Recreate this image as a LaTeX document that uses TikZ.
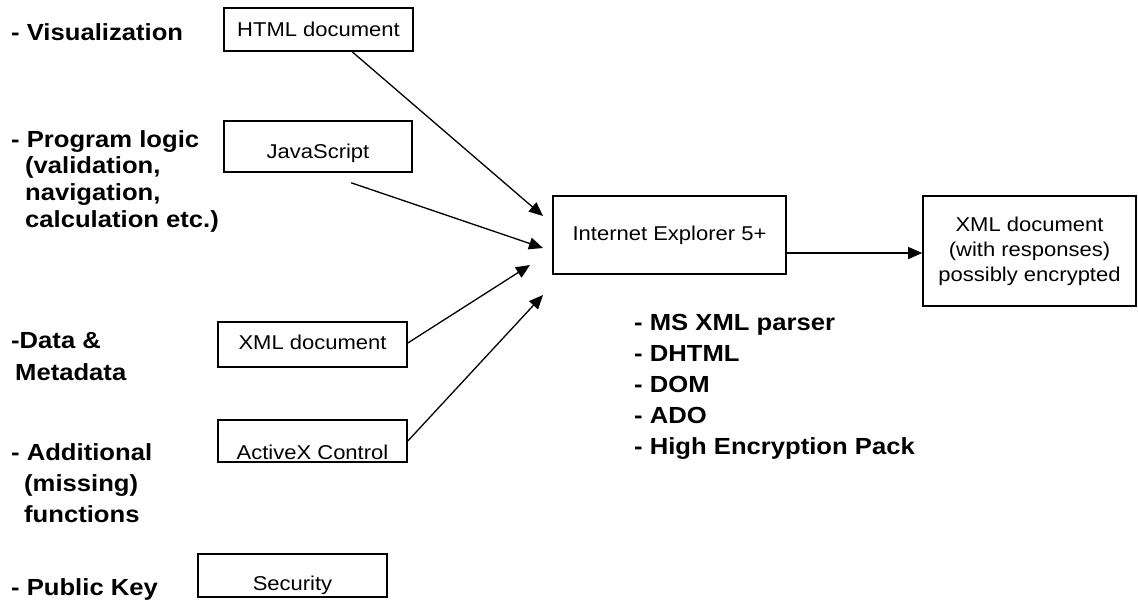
\documentclass[tikz,border=0pt]{standalone}
\usepackage{fontspec}
\setmainfont{Liberation Sans}[FakeStretch=1.1]
\usetikzlibrary{arrows.meta}
\begin{document}
\begin{tikzpicture}[x=1pt,y=-1pt,
  box/.style={draw,line width=1.6pt,inner sep=0pt,font=\fontsize{20}{25}\selectfont},
  lbl/.style={anchor=base west,inner sep=0pt,font=\fontsize{23.3}{26.7}\selectfont\bfseries},
  arr/.style={line width=1.3pt,-{Triangle[length=14pt,width=12pt]}}]
\useasboundingbox (0,0) rectangle (1138,603);
% boxes
\node[box,minimum width=189pt,minimum height=43pt,text height=13pt,text depth=0pt] (html) at (318.5,29.5) {HTML document};
\node[box,minimum width=188pt,minimum height=51pt,text height=23pt,text depth=0pt] (js) at (318,146.5) {JavaScript};
\node[box,minimum width=189pt,minimum height=45pt,text height=9pt,text depth=0pt] (xmlin) at (312.5,344.5) {XML document};
\node[box,minimum width=189pt,minimum height=42pt,text height=36pt,text depth=0pt] (activex) at (312.5,441) {ActiveX Control};
\node[box,minimum width=189pt,minimum height=43pt,text height=29pt,text depth=0pt] (security) at (292.5,575.5) {Security};
\node[box,minimum width=233pt,minimum height=78pt,text height=10pt,text depth=0pt] (ie) at (669.5,235) {Internet Explorer 5+};
\node[box,minimum width=213pt,minimum height=110pt,align=center] (out) at (1029.5,251) {XML document\\(with responses)\\possibly encrypted};
% arrow tips
\coordinate (t1) at (543,216);
\coordinate (t2) at (543,248);
\coordinate (t3) at (530,265);
\coordinate (t4) at (543,295);
\draw[arr] ([xshift=129pt]html.south west) -- (t1);
\draw[arr] ([xshift=128pt,yshift=-10pt]js.south west) -- (t2);
\draw[arr] ([yshift=1.5pt]xmlin.east) -- (t3);
\draw[arr] (activex.east) -- (t4);
\draw[arr] ([yshift=-18pt]ie.east) -- ([yshift=-18pt]ie.east -| out.west);
% labels
\node[lbl] (l1) at (11,40) {- Visualization};
\node[lbl] (l2) at (11,147) {\begin{tabular}[t]{@{}l@{}}- Program logic\\\hspace{14pt}(validation,\\\hspace{14pt}navigation,\\\hspace{14pt}calculation etc.)\end{tabular}};
\node[lbl] (l3) at (11,348) {\fontsize{23.3}{32}\selectfont\begin{tabular}[t]{@{}l@{}}-Data \&\\\hspace{4pt}Metadata\end{tabular}};
\node[lbl] (l4) at (11,460) {\fontsize{23.3}{31}\selectfont\begin{tabular}[t]{@{}l@{}}- Additional\\\hspace{13pt}(missing)\\\hspace{13pt}functions\end{tabular}};
\node[lbl] (l5) at (11,595) {- Public Key};
\node[lbl] (feat) at (634,330) {\fontsize{23.3}{31.2}\selectfont\begin{tabular}[t]{@{}l@{}}- MS XML parser\\- DHTML\\- DOM\\- ADO\\- High Encryption Pack\end{tabular}};
\end{tikzpicture}
\end{document}
